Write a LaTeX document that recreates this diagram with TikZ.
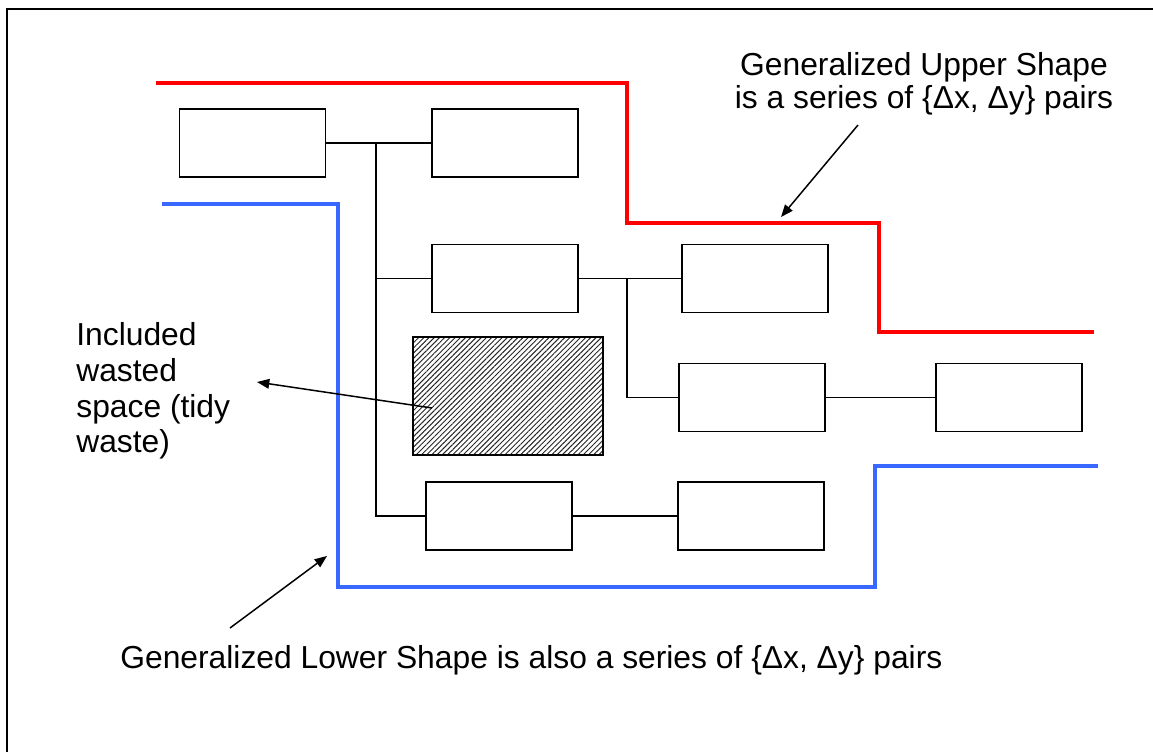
\documentclass[tikz,border=0pt]{standalone}
\usepackage{fontspec}
\setmainfont{Liberation Sans}
\usetikzlibrary{positioning,arrows.meta,calc,patterns.meta}
\definecolor{shapered}{RGB}{255,0,0}
\definecolor{shapeblue}{RGB}{56,104,255}
\tikzset{
  fig/.style={x=0.02cm,y=0.02cm,font=\fontsize{18.1}{18.7}\selectfont},
  blk/.style={draw,line width=1.1pt,minimum width=2.92cm,minimum height=1.36cm,
              inner sep=0pt},
  wastebox/.style={blk,minimum width=3.8cm,minimum height=2.36cm,
              pattern={Lines[angle=45,distance=2.1pt,line width=0.55pt]},
              pattern color=black!85},
  wire/.style={line width=0.8pt},
  uppershape/.style={draw=shapered,line width=2.4pt},
  lowershape/.style={draw=shapeblue,line width=2.6pt},
  ln/.style={-{Triangle[length=7pt,width=5.5pt]},line width=0.85pt},
  lbl/.style={inner sep=0pt},
}

\begin{document}
\begin{tikzpicture}[fig]
\useasboundingbox (0,0) rectangle (1153,-751);
\clip (0,0) rectangle (1153,-751);

% frame, only its top and left edge fall on the page
\draw[line width=1.1pt] (7,-900) -- (7,-9) -- (1300,-9);

% ------------------------------------------------ 1: the tree of boxes
\foreach \nm/\x/\y in {a/252.5/143, b/505/143, c/505/278.5, d/755/278.5,
                       e/752/397.5, f/1009/397.5, h/499/516, i/751/516}
  {\node[blk] (\nm) at (\x,-\y) {};}
\node[wastebox] (g) at (508,-396) {};

\coordinate (trunk) at (376,-143);
\coordinate (branch) at (627,-278.5);
\draw[wire] (a.east) -- (b.west);
\draw[wire] (trunk) |- (h.west);
\draw[wire] (trunk |- c.west) -- (c.west);
\draw[wire] (c.east) -- (d.west);
\draw[wire] (branch) |- (e.west);
\draw[wire] (e.east) -- (f.west);
\draw[wire] (h.east) -- (i.west);

% ------------------------------------------------ 2: the two outlines
\draw[uppershape] (156,-83) -- (627,-83) -- (627,-223) -- (879,-223)
                  -- (879,-332) -- (1094,-332);
\draw[lowershape] (162,-204) -- (338,-204) -- (338,-587) -- (875,-587)
                  -- (875,-466) -- (1098,-466);

% ------------------------------------------------ 3: the notes
\node[lbl,align=center,anchor=north] (uplbl) at (924,-52)
     {Generalized Upper Shape\\is a series of \{Δx, Δy\} pairs};
\node[lbl,align=left,anchor=north west,font=\fontsize{18.1}{20.4}\selectfont]
     (wastelbl) at (76,-322) {Included\\wasted\\space (tidy\\waste)};
\node[lbl,anchor=base west] (lowlbl) at (120,-668)
     {Generalized Lower Shape is also a series of \{Δx, Δy\} pairs};

\coordinate (uptail) at (858,-125);
\coordinate (uptip) at (781,-217);
\coordinate (wastesrc) at (432,-408);
\coordinate (wastetip) at (257,-382);
\coordinate (lowtail) at (230,-628);
\coordinate (lowtip) at (327,-556);
\draw[ln] (uptail) -- (uptip);
\draw[ln] (wastesrc) -- (wastetip);
\draw[ln] (lowtail) -- (lowtip);

\end{tikzpicture}
\end{document}
